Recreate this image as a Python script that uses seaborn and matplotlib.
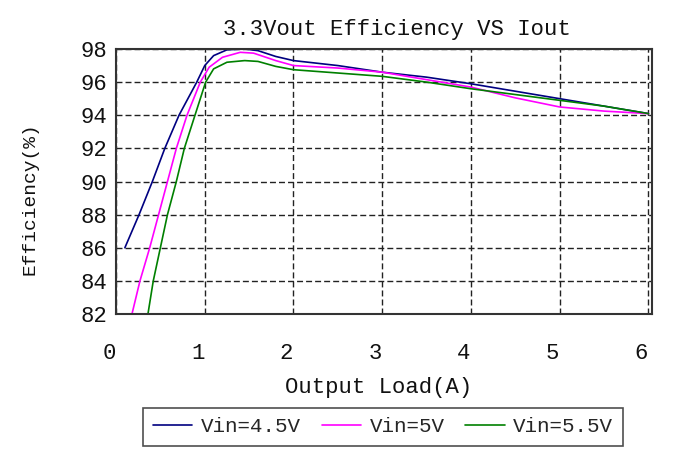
import matplotlib
matplotlib.use("Agg")
import matplotlib.pyplot as plt
import matplotlib.transforms as mtransforms
import seaborn as sns
import pandas as pd

# Data
x_45 = [0.10, 0.26, 0.41, 0.55, 0.71, 0.85, 0.91, 1.00, 1.10, 1.25, 1.45, 1.60, 1.80, 2.00, 2.50, 3.00, 3.50, 4.00, 4.50, 5.00, 5.50, 6.00]
y_45 = [86.0, 88.0, 90.0, 92.0, 94.0, 95.4, 96.0, 97.0, 97.6, 97.95, 98.0, 97.9, 97.55, 97.3, 97.0, 96.6, 96.3, 95.9, 95.45, 95.0, 94.55, 94.1]

x_50 = [0.18, 0.27, 0.38, 0.48, 0.58, 0.68, 0.80, 0.95, 1.05, 1.20, 1.40, 1.55, 1.80, 2.00, 2.50, 3.00, 3.50, 4.00, 4.50, 5.00, 5.50, 6.00]
y_50 = [82.0, 84.0, 86.0, 88.0, 90.0, 92.0, 94.0, 96.0, 96.9, 97.5, 97.8, 97.75, 97.3, 97.0, 96.85, 96.6, 96.15, 95.7, 95.05, 94.5, 94.25, 94.1]

x_55 = [0.36, 0.42, 0.50, 0.58, 0.68, 0.77, 0.89, 1.01, 1.10, 1.25, 1.45, 1.60, 1.80, 2.00, 2.50, 3.00, 3.50, 4.00, 4.50, 5.00, 5.50, 6.00]
y_55 = [82.0, 84.0, 86.0, 88.0, 90.0, 92.0, 94.0, 96.0, 96.8, 97.2, 97.3, 97.25, 96.95, 96.75, 96.55, 96.35, 96.0, 95.6, 95.25, 94.9, 94.55, 94.1]

series_names = ["Vin=4.5V", "Vin=5V", "Vin=5.5V"]
series_colors = ["#000080", "#ff00ff", "#008000"]
x_ticks = [0, 1, 2, 3, 4, 5, 6]
y_ticks = [82, 84, 86, 88, 90, 92, 94, 96, 98]

title = "3.3Vout Efficiency VS Iout"
x_label = "Output Load(A)"
y_label = "Efficiency(%)"

frames = []
for name, xs, ys in zip(series_names, [x_45, x_50, x_55], [y_45, y_50, y_55]):
    frames.append(pd.DataFrame({"Iout": xs, "Eff": ys, "Vin": name}))
df = pd.concat(frames, ignore_index=True)

sns.set_theme(style="white")
plt.rcParams["font.family"] = ["Liberation Mono", "DejaVu Sans Mono"]

fig = plt.figure(figsize=(6.73, 4.55), dpi=100)
ax = fig.add_axes([116 / 673, 1 - 314 / 455, (652 - 116) / 673, (314 - 49) / 455])

sns.lineplot(data=df, x="Iout", y="Eff", hue="Vin", palette=dict(zip(series_names, series_colors)),
             hue_order=series_names, sort=False, estimator=None, linewidth=1.2, legend=False, ax=ax)

ax.set_xlim(0, 6.04)
ax.set_ylim(82, 98)
ax.set_xticks(x_ticks)
ax.set_yticks(y_ticks)
ax.set_xticklabels([str(t) for t in x_ticks], fontsize=16)
ax.set_yticklabels([str(t) for t in y_ticks], fontsize=16)
ax.tick_params(axis="x", direction="in", length=5, width=1.2, color="#333333", pad=21, labelcolor="#111111")
ax.tick_params(axis="y", direction="in", length=3, width=1.2, color="#333333", pad=6, labelcolor="#111111")

# shift x tick labels slightly left as in the reference
offset = mtransforms.ScaledTranslation(-7 / 100, 0, fig.dpi_scale_trans)
for lbl in ax.get_xticklabels():
    lbl.set_transform(lbl.get_transform() + offset)

ax.grid(True, color="#222222", linestyle=(0, (4.3, 2.2)), linewidth=1.0)
ax.set_axisbelow(True)
for sp in ax.spines.values():
    sp.set_color("#333333")
    sp.set_linewidth(1.5)
    sp.set_visible(True)

ax.set_xlabel("")
ax.set_ylabel("")
fig.text(397 / 673, 1 - 29 / 455, title, ha="center", va="center", fontsize=16, color="#111111")
fig.text(379 / 673, 1 - 388 / 455, x_label, ha="center", va="center", fontsize=16, color="#111111")
fig.text(30 / 673, 1 - 199 / 455, y_label, ha="center", va="center", rotation=90, fontsize=14, color="#111111")

handles = ax.get_lines()[:3]
leg = fig.legend(handles, series_names, loc="center", bbox_to_anchor=(383 / 673, 1 - 427 / 455),
                 ncol=3, fontsize=15, frameon=True, fancybox=False, handlelength=1.9,
                 handletextpad=0.4, columnspacing=1.0, borderpad=0.45, borderaxespad=0)
leg.get_frame().set_edgecolor("#222222")
leg.get_frame().set_linewidth(1.2)

fig.savefig("out.png", dpi=100)
